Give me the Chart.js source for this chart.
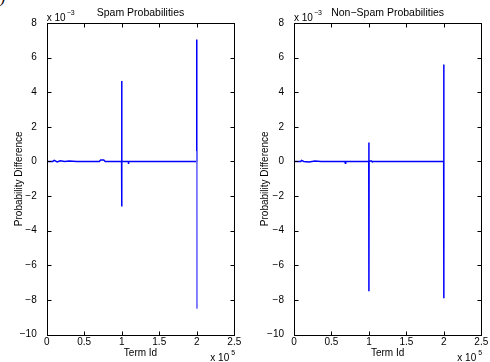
<!DOCTYPE html>
<html>
<head>
<meta charset="utf-8">
<script src="https://cdn.jsdelivr.net/npm/chart.js@4.4.0/dist/chart.umd.min.js"></script>
<style>
  body { margin: 0; background: #fff; }
  .wrap { position: relative; width: 490px; height: 362px; overflow: hidden; }
  .box { position: absolute; top: 0; width: 245px; height: 362px; }
  .paren { position: absolute; left: 0; top: -11px; font: italic 16px 'Liberation Serif', serif; color: #000; }
</style>
</head>
<body>
<div class="wrap">
  <div class="paren">)</div>
  <div class="box" style="left:0"><canvas id="spamChart" width="245" height="362"></canvas></div>
  <div class="box" style="left:245px"><canvas id="hamChart" width="245" height="362"></canvas></div>
</div>
<script>
// term id vs probability difference (spam)
var spamIds = [500, 8000, 10000, 14000, 18000, 24000, 30000, 40000, 55000, 70000, 72000, 76000, 78000,
               99800, 100000, 100000, 100200, 108800, 109000, 109200, 150000, 199800, 200000, 200000, 200200];
var spamDiff = [0, 0, 0.00006, -0.00003, 0.00004, 0, 0.00002, 0, 0, 0, 0.00008, 0.00008, 0,
                0, 0.00465, -0.0026, 0, 0, -0.00015, 0, 0, 0, 0.00705, 0.0006, -0.0085];

// term id vs probability difference (non-spam)
var hamIds = [500, 9000, 10000, 13000, 20000, 28000, 36000, 50000, 68000, 68500, 69000,
              99800, 100000, 100000, 100200, 103000, 104000, 150000, 199800, 200000, 200000];
var hamDiff = [0, 0, 0.00006, 0, -0.00003, 0.00002, 0, 0, 0, -0.0001, 0,
               0, 0.0011, -0.0075, 0, 0.00004, 0, 0, 0, 0.0056, -0.0079];

var xTicks = [0, 0.5, 1, 1.5, 2, 2.5];
var yTicks = [-10, -8, -6, -4, -2, 0, 2, 4, 6, 8];

var FONT = "'Liberation Sans', Arial, Helvetica, sans-serif";

function minus(s) { return String(s).replace('-', '\u2212'); }

// MATLAB style box with inward ticks, title and exponent labels
var boxPlugin = {
    id: 'matlabBox',
    afterDraw: function (chart, args, opts) {
        var c = chart.ctx, a = chart.chartArea;
        var xs = chart.scales.x, ys = chart.scales.y;
        var l = Math.round(a.left) + 0.5, r = Math.round(a.right) + 0.5;
        var t = Math.round(a.top) + 0.5, b = Math.round(a.bottom) + 0.5;
        c.save();
        c.strokeStyle = '#000';
        c.lineWidth = 1;
        c.strokeRect(l, t, r - l, b - t);
        c.beginPath();
        xTicks.forEach(function (v) {
            var px = Math.round(xs.getPixelForValue(v * 1e5)) + 0.5;
            c.moveTo(px, b); c.lineTo(px, b - 4);
            c.moveTo(px, t); c.lineTo(px, t + 4);
        });
        yTicks.forEach(function (v) {
            var py = Math.round(ys.getPixelForValue(v / 1e3)) + 0.5;
            c.moveTo(l, py); c.lineTo(l + 4, py);
            c.moveTo(r, py); c.lineTo(r - 4, py);
        });
        c.stroke();
        c.fillStyle = '#000';
        c.textBaseline = 'alphabetic';
        c.font = '10.5px ' + FONT;
        c.textAlign = 'center';
        c.fillText(opts.text, (a.left + a.right) / 2, 16);
        c.font = '10px ' + FONT;
        c.textAlign = 'left';
        c.fillText('x 10', a.left, a.top - 2);
        c.fillText('x 10', a.right - 24, chart.height - 1);
        c.font = '7px ' + FONT;
        c.fillText('\u22123', a.left + 20, a.top - 8);
        c.fillText('5', a.right - 3, chart.height - 7);
        c.restore();
    }
};

function makeChart(id, title, ids, diffs, yPad, rightPad, titlePad, segment) {
    var pts = ids.map(function (x, i) { return { x: x, y: diffs[i] }; });
    return new Chart(document.getElementById(id), {
        type: 'line',
        data: {
            datasets: [{
                data: pts,
                borderColor: '#0000ff',
                borderWidth: 1.5,
                pointRadius: 0,
                tension: 0,
                segment: segment || {}
            }]
        },
        options: {
            responsive: false,
            animation: false,
            layout: { padding: { left: 0, right: rightPad, top: 23, bottom: 0 } },
            plugins: {
                legend: { display: false },
                tooltip: { enabled: false },
                title: { display: false },
                matlabBox: { text: title }
            },
            scales: {
                x: {
                    type: 'linear',
                    min: 0, max: 250000,
                    afterFit: function (s) { s.height = 27.5; },
                    afterBuildTicks: function (s) {
                        s.ticks = xTicks.map(function (v) { return { value: v * 1e5 }; });
                    },
                    ticks: {
                        color: '#000', padding: -6, maxRotation: 0,
                        font: { family: FONT, size: 10 },
                        callback: function (v) { return String(Math.round(v / 1e4) / 10); }
                    },
                    grid: { display: false },
                    border: { display: false },
                    title: {
                        display: true, text: 'Term Id', color: '#000',
                        font: { family: FONT, size: 10 },
                        padding: { top: 0, bottom: 3 }
                    }
                },
                y: {
                    type: 'linear',
                    min: -0.01, max: 0.008,
                    afterFit: function (s) { s.width = yPad; },
                    afterBuildTicks: function (s) {
                        s.ticks = yTicks.map(function (v) { return { value: v / 1e3 }; });
                    },
                    ticks: {
                        color: '#000', padding: 2,
                        font: { family: FONT, size: 10 },
                        callback: function (v) { return minus(Math.round(v * 1e3)); }
                    },
                    grid: { display: false },
                    border: { display: false },
                    title: {
                        display: true, text: 'Probability Difference', color: '#000',
                        font: { family: FONT, size: 10 },
                        padding: { top: titlePad, bottom: 0 }
                    }
                }
            }
        },
        plugins: [boxPlugin]
    });
}

makeChart('spamChart', 'Spam Probabilities', spamIds, spamDiff, 46.7, 10.7, 13, {
    borderColor: function (ctx) { return ctx.p1.parsed.y < -0.008 ? '#6f6fff' : undefined; },
    borderWidth: function (ctx) { return ctx.p1.parsed.y < -0.008 ? 1 : undefined; }
});
makeChart('hamChart', 'Non\u2212Spam Probabilities', hamIds, hamDiff, 49, 8.7, 14.7);
</script>
</body>
</html>
